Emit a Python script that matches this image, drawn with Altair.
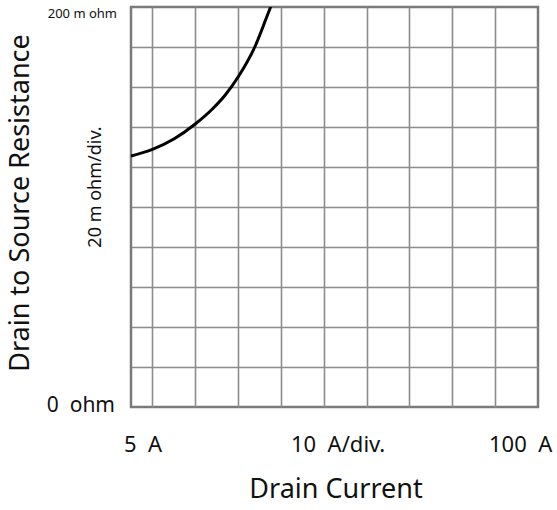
import altair as alt
import pandas as pd

# Curve: drain current (A) vs resistance (m ohm)
current_a = [5, 10, 15, 20, 24, 27, 30, 34, 37.6, 40]
resistance_mohm = [125.5, 128.8, 134, 141.5, 149, 156, 165, 180.5, 200, 212]

x_grid = [10, 20, 30, 40, 50, 60, 70, 80, 90]
y_grid = [20, 40, 60, 80, 100, 120, 140, 160, 180]

FONT = "Noto Sans"
NB = "\u00a0"

df = pd.DataFrame({"I": current_a, "R": resistance_mohm})

xs = alt.Scale(domain=[5, 100], nice=False, zero=False)
ys = alt.Scale(domain=[0, 200], nice=False, zero=False)

curve = alt.Chart(df).mark_line(
    color="#000000", strokeWidth=3, interpolate="monotone", clip=True
).encode(
    x=alt.X("I:Q", scale=xs, axis=alt.Axis(values=x_grid, grid=True, labels=False,
                                           ticks=False, domain=False, title=None,
                                           gridColor="#8c8c8c", gridWidth=1.6, gridOpacity=1)),
    y=alt.Y("R:Q", scale=ys, axis=alt.Axis(values=y_grid, grid=True, labels=False,
                                           ticks=False, domain=False, title=None,
                                           gridColor="#8c8c8c", gridWidth=1.6, gridOpacity=1)),
)

def label(text, x, y, size, align="left", angle=0, baseline="middle"):
    kw = dict(text=text, fontSize=size, font=FONT, color="#111111", align=align, baseline=baseline)
    if angle:
        kw["angle"] = angle
    return alt.Chart(pd.DataFrame({"t": [text]})).mark_text(**kw).encode(
        x=alt.value(x), y=alt.value(y)
    )

texts = [
    label("200 m ohm", -14, 7, 13, align="right"),
    label("0" + NB + NB + "ohm", -16, 399, 21, align="right"),
    label("20 m ohm/div.", -35, 180, 18, align="center", angle=270),
    label("Drain to Source Resistance", -110, 196, 27, align="center", angle=270),
    label("5" + NB + NB + "A", -7, 438, 22),
    label("10" + NB + NB + "A/div.", 160, 438, 22),
    label("100" + NB + NB + "A", 358, 438, 22),
    label("Drain Current", 205, 483, 27, align="center"),
]

chart = alt.layer(curve, *texts).properties(
    width=407, height=400,
    autosize=alt.AutoSizeParams(type="none"),
    padding={"left": 131, "top": 7, "right": 19, "bottom": 103},
    background="#ffffff",
).configure_view(stroke="#7a7a7a", strokeWidth=2.5)

chart.save("out.html", embed_options={"renderer": "svg", "actions": False})
